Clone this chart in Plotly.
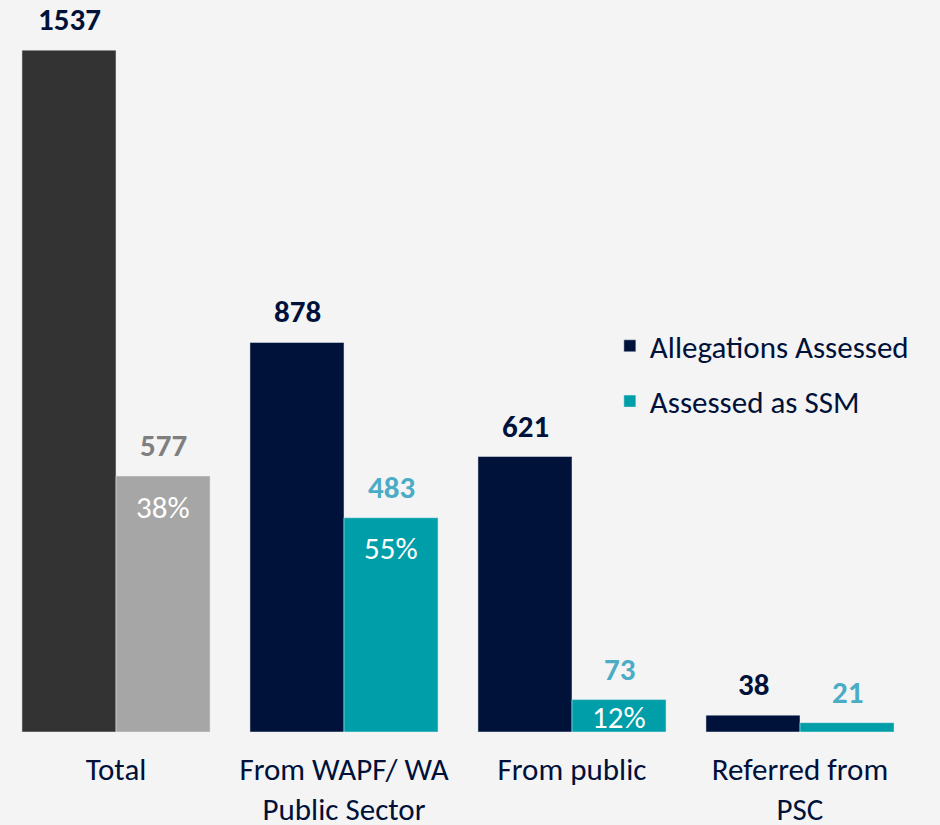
import plotly.graph_objects as go

categories = ["Total", "From WAPF/ WA<br>Public Sector", "From public", "Referred from<br>PSC"]
allegations = [1537, 878, 621, 38]
ssm = [577, 483, 73, 21]
pct_labels = ["38%", "55%", "12%", ""]

NAVY = "#00113a"
TEAL = "#009ea8"
DARK = "#333333"
LIGHT = "#a6a6a6"
BG = "#f4f4f4"
FONT = "Carlito, Lato, sans-serif"

fig = go.Figure()
# Total bars (own colours, not in legend)
fig.add_trace(go.Bar(x=categories[:1], y=allegations[:1], marker_color=DARK,
                     offsetgroup="a", showlegend=False, hoverinfo="skip"))
fig.add_trace(go.Bar(x=categories[:1], y=ssm[:1], marker_color=LIGHT,
                     offsetgroup="b", showlegend=False, hoverinfo="skip"))
fig.add_trace(go.Bar(x=categories[1:], y=allegations[1:], marker_color=NAVY,
                     name="Allegations Assessed", offsetgroup="a", legendgroup="g1"))
fig.add_trace(go.Bar(x=categories[1:], y=ssm[1:], marker_color=TEAL,
                     name="Assessed as SSM", offsetgroup="b", legendgroup="g2"))

half = 47
# value labels
for i, c in enumerate(categories):
    fig.add_annotation(x=c, y=allegations[i], text="<b>%d</b>" % allegations[i],
                       xshift=-half, yshift=10, yanchor="bottom", showarrow=False,
                       font=dict(family=FONT, size=31, color=NAVY))
    fig.add_annotation(x=c, y=ssm[i], text="<b>%d</b>" % ssm[i],
                       xshift=half, yshift=10, yanchor="bottom", showarrow=False,
                       font=dict(family=FONT, size=31, color="#7f7f7f" if i == 0 else "#4bacc6"))
pct_shift = [-31, -30, -17, 0]
for i, c in enumerate(categories):
    if pct_labels[i]:
        fig.add_annotation(x=c, y=ssm[i], text=pct_labels[i], xshift=half,
                           yshift=pct_shift[i], yanchor="middle", showarrow=False,
                           font=dict(family=FONT, size=31, color="white"))

fig.update_layout(
    width=940, height=825,
    paper_bgcolor=BG, plot_bgcolor=BG,
    margin=dict(l=2, r=26, t=0, b=93),
    barmode="group", bargap=0.175, bargroupgap=0,
    font=dict(family=FONT, color=NAVY),
    legend=dict(x=0.6665, y=0.564, xanchor="left", yanchor="top",
                font=dict(family=FONT, size=31, color=NAVY),
                traceorder="grouped", tracegroupgap=12, bgcolor="rgba(0,0,0,0)"),
    xaxis=dict(showgrid=False, showline=False, zeroline=False, ticks="", automargin=False,
               tickfont=dict(family=FONT, size=31, color=NAVY), ticklabelstandoff=16),
    yaxis=dict(visible=False, range=[0, 1650], showgrid=False, zeroline=False, automargin=False),
)
fig.write_html("out.html", config={"displayModeBar": False},
               post_script="document.body.style.margin='0';document.body.style.background='#f4f4f4';")
